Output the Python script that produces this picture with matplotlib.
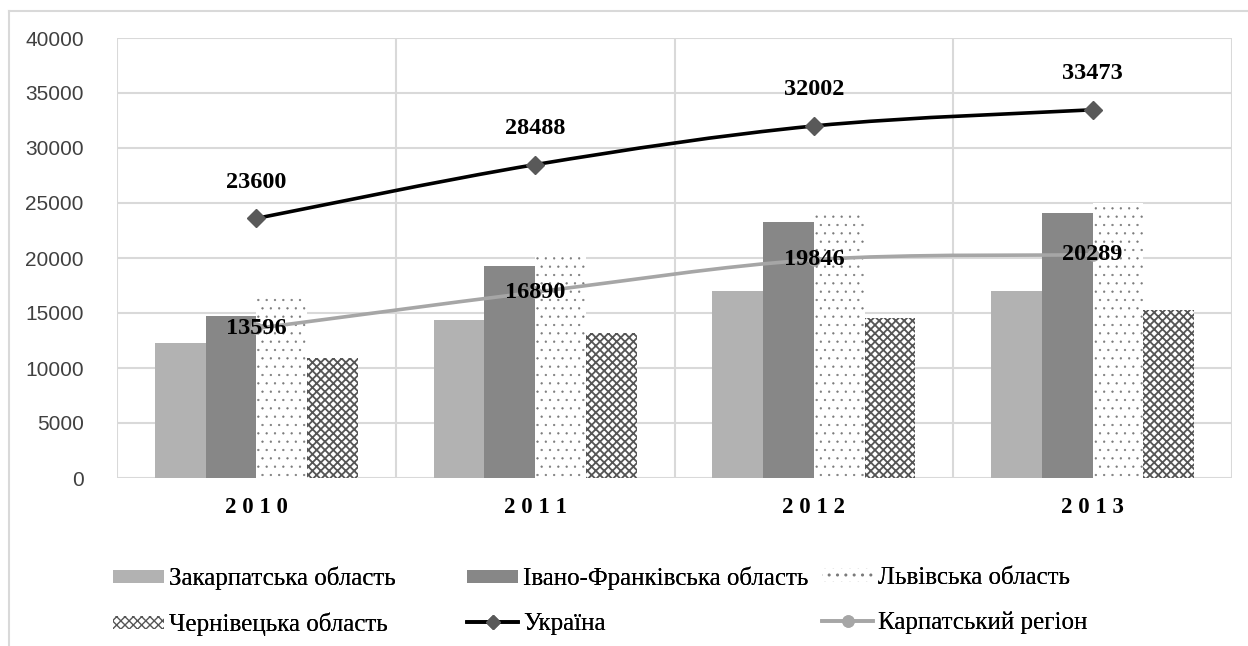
import matplotlib
matplotlib.use("Agg")
import matplotlib.pyplot as plt
import numpy as np
from matplotlib.path import Path
from matplotlib.patches import PathPatch
from matplotlib.lines import Line2D
from matplotlib.patches import Patch

years = ["2010", "2011", "2012", "2013"]
zakarpatska = [12250, 14350, 17000, 17000]
ivano_frankivska = [14750, 19300, 23300, 24100]
lvivska = [16350, 20450, 24300, 25000]
chernivetska = [10900, 13200, 14550, 15250]
ukraina = [23600, 28488, 32002, 33473]
karpatskyi = [13596, 16890, 19846, 20289]

bar_names = ["Закарпатська область", "Івано-Франківська область",
             "Львівська область", "Чернівецька область"]
line_names = ["Україна", "Карпатський регіон"]

SERIF = ["Liberation Serif", "DejaVu Serif"]
SANS = ["Liberation Sans", "DejaVu Sans"]

DOT_C = '#7a7a7a'
CROSS_C = '#555555'


def smooth_path(xs, ys):
    # excel-like smoothed line (catmull-rom as bezier)
    pts = np.column_stack([xs, ys]).astype(float)
    ext = np.vstack([pts[0], pts, pts[-1]])
    verts = [pts[0]]
    codes = [Path.MOVETO]
    for i in range(len(pts) - 1):
        p0, p1, p2, p3 = ext[i], ext[i + 1], ext[i + 2], ext[i + 3]
        verts += [p1 + (p2 - p0) / 6, p2 - (p3 - p1) / 6, p2]
        codes += [Path.CURVE4] * 3
    return Path(verts, codes)


def main():
    fig = plt.figure(figsize=(12.48, 6.46), dpi=100)
    ax = fig.add_axes([117 / 1248, 1 - 478 / 646, 1115 / 1248, 440 / 646])

    x = np.arange(len(years))
    w = 0.182
    grid_c = '#d9d9d9'

    ax.bar(x - 1.5 * w, zakarpatska, w, color='#b2b2b2', zorder=2)
    ax.bar(x - 0.5 * w, ivano_frankivska, w, color='#878787', zorder=2)
    with plt.rc_context({'hatch.linewidth': 0.4}):
        ax.bar(x + 0.5 * w, lvivska, w, facecolor='white', edgecolor=DOT_C,
               hatch='..', linewidth=0, zorder=2)
        lv_handle = Patch(facecolor='white', edgecolor=DOT_C, hatch='..', linewidth=0)
    with plt.rc_context({'hatch.linewidth': 1.3}):
        ax.bar(x + 1.5 * w, chernivetska, w, facecolor='white', edgecolor=CROSS_C,
               hatch='xxxx', linewidth=0, zorder=2)
        ch_handle = Patch(facecolor='white', edgecolor=CROSS_C, hatch='xxxx', linewidth=0)

    ax.add_patch(PathPatch(smooth_path(x, ukraina), facecolor='none',
                           edgecolor='black', lw=2.6, zorder=3))
    ax.plot(x, ukraina, linestyle='none', marker='D', markersize=9,
            color='#595959', zorder=4)
    ax.add_patch(PathPatch(smooth_path(x, karpatskyi), facecolor='none',
                           edgecolor='#a6a6a6', lw=2.6, zorder=3))
    ax.plot(x, karpatskyi, linestyle='none', marker='o', markersize=8,
            color='#a6a6a6', zorder=4)

    for xi, v in zip(x, ukraina):
        ax.annotate(str(v), (xi, v), xytext=(0, 26), textcoords='offset points',
                    ha='center', va='center', fontsize=17.5, fontweight='bold',
                    family=SERIF, zorder=5)
    for xi, v in zip(x, karpatskyi):
        ax.text(xi, v, str(v), ha='center', va='center', fontsize=17.5,
                fontweight='bold', family=SERIF, zorder=5)

    ax.set_xlim(-0.5, len(years) - 0.5)
    ax.set_ylim(0, 40000)
    ax.set_yticks(np.arange(0, 40001, 5000))
    ax.set_yticklabels([str(t) for t in range(0, 40001, 5000)],
                       family=SANS, fontsize=15, color='#404040')
    ax.set_xticks(x)
    ax.set_xticklabels([" ".join(y) for y in years], family=SERIF,
                       fontsize=16.5, fontweight='bold')
    ax.tick_params(axis='y', length=0, pad=24)
    ax.tick_params(axis='x', length=0, pad=14)
    ax.yaxis.grid(True, color=grid_c, lw=1.5, zorder=0)
    for b in np.arange(-0.5, len(years), 1.0):
        ax.axvline(b, color=grid_c, lw=1.5, zorder=0)
    for s in ax.spines.values():
        s.set_visible(False)

    # frame of the chart area (cut off at the right and bottom)
    fig.add_artist(Line2D([9 / 1248, 9 / 1248], [0, 1 - 11 / 646],
                          color=grid_c, lw=1.5, transform=fig.transFigure))
    fig.add_artist(Line2D([9 / 1248, 1], [1 - 11 / 646, 1 - 11 / 646],
                          color=grid_c, lw=1.5, transform=fig.transFigure))

    handles = [
        Patch(facecolor='#b2b2b2', edgecolor='none'),
        Patch(facecolor='#878787', edgecolor='none'),
        lv_handle,
        ch_handle,
        Line2D([], [], color='black', lw=2.6, marker='D', markersize=7,
               markerfacecolor='#595959', markeredgecolor='#595959'),
        Line2D([], [], color='#a6a6a6', lw=2.6, marker='o', markersize=8),
    ]
    labels = bar_names + line_names
    cols = [(113, [0, 3]), (467, [1, 4]), (822, [2, 5])]
    for px, idx in cols:
        leg = fig.legend([handles[i] for i in idx], [labels[i] for i in idx],
                         loc='upper left', bbox_to_anchor=(px / 1248, 1 - 567 / 646),
                         bbox_transform=fig.transFigure, frameon=False,
                         prop={'family': SERIF, 'size': 18},
                         handlelength=2.05, handleheight=0.45, handletextpad=0.2,
                         labelspacing=0.9, borderpad=0, borderaxespad=0)
        fig.add_artist(leg)

    fig.savefig("out.png", dpi=100)


if __name__ == "__main__":
    main()
